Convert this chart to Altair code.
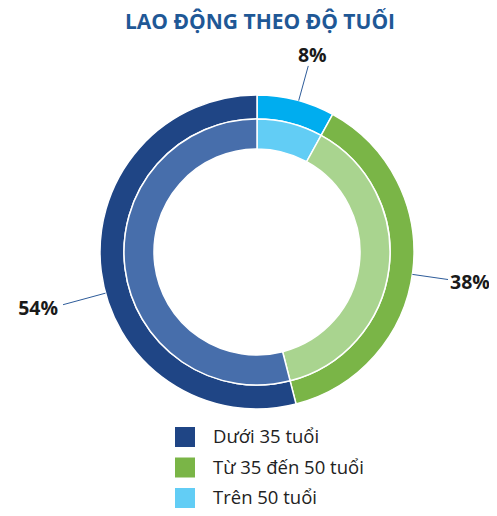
import math
import altair as alt
import pandas as pd

# ---- data ----
title_text = "LAO ĐỘNG THEO ĐỘ TUỔI"
categories = ["Trên 50 tuổi", "Từ 35 đến 50 tuổi", "Dưới 35 tuổi"]
values = [8, 38, 54]
legend_order = ["Dưới 35 tuổi", "Từ 35 đến 50 tuổi", "Trên 50 tuổi"]

# ---- styling ----
outer_colors = ["#00ADEF", "#7AB547", "#1F4585"]
inner_colors = ["#62CDF5", "#A9D48F", "#476EAB"]
legend_colors = ["#1F4585", "#7AB547", "#62CDF5"]
label_nudge_deg = [1, 1, -8]   # label placement tweak (layout only)
leader_extend = [0, 0, 8]      # extra leader length in px (layout only)

W, H = 481, 500
CX, CY = 249, 244  # donut center in view pixels
R_OUT, R_MID, R_IN = 157, 133, 103
R_END = 193

df = pd.DataFrame({"cat": categories, "val": values, "order": [0, 1, 2]})

# leader lines and labels, computed from the values
total = sum(values)
rows_lines, rows_text = [], []
cum = 0
for i, (c, v) in enumerate(zip(categories, values)):
    mid = (cum + v / 2) / total * 360 + label_nudge_deg[i]
    cum += v
    a = math.radians(mid)
    s, co = math.sin(a), math.cos(a)
    r_end = R_END + leader_extend[i]
    rows_lines.append({"cat": c, "x": R_OUT * s, "y": R_OUT * co, "x2": r_end * s, "y2": r_end * co})
    side = "right" if s > 0.5 else ("left" if s < -0.5 else "top")
    rows_text.append({"cat": c, "x": r_end * s, "y": r_end * co, "label": f"{v}%", "side": side})
lines_df = pd.DataFrame(rows_lines)
text_df = pd.DataFrame(rows_text)
title_df = pd.DataFrame({"t": [title_text], "x": [3], "y": [CY - 21]})

xs = alt.Scale(domain=[-CX, W - CX], range=[0, W])
ys = alt.Scale(domain=[-(H - CY), CY], range=[H, 0])

theta = alt.Theta("val:Q", stack=True, scale=alt.Scale(range=[0, 2 * math.pi]))
base = alt.Chart(df).encode(
    theta=theta,
    order=alt.Order("order:Q"),
    x=alt.value(CX),
    y=alt.value(CY),
)

outer = base.mark_arc(outerRadius=R_OUT, innerRadius=R_MID, stroke="white", strokeWidth=1.5).encode(
    fill=alt.Fill("cat:N", scale=alt.Scale(domain=categories, range=outer_colors), legend=None)
)
inner = base.mark_arc(outerRadius=R_MID, innerRadius=R_IN, stroke="white", strokeWidth=1.5).encode(
    fill=alt.Fill("cat:N", scale=alt.Scale(domain=categories, range=inner_colors), legend=None)
)

legend_layer = alt.Chart(df).mark_square(opacity=0, filled=True).encode(
    x=alt.value(CX),
    y=alt.value(CY),
    color=alt.Color(
        "cat:N",
        scale=alt.Scale(domain=legend_order, range=legend_colors),
        legend=alt.Legend(
            title=None,
            orient="none",
            legendX=167,
            legendY=419,
            symbolType="square",
            symbolSize=400,
            symbolOpacity=1,
            symbolStrokeWidth=0,
            labelFont="Open Sans",
            labelFontSize=18.5,
            labelColor="#222222",
            labelOffset=18,
            rowPadding=10.5,
            padding=0,
        ),
    ),
)

leaders = alt.Chart(lines_df).mark_rule(color="#2E5C9A", strokeWidth=1).encode(
    x=alt.X("x:Q", scale=xs, axis=None),
    y=alt.Y("y:Q", scale=ys, axis=None),
    x2="x2:Q",
    y2="y2:Q",
)


def label_layer(side, align, baseline, dx, dy):
    return (
        alt.Chart(text_df)
        .transform_filter(alt.datum.side == side)
        .mark_text(
            font="Open Sans",
            fontSize=19.5,
            fontWeight="bold",
            color="#1A1A1A",
            align=align,
            baseline=baseline,
            dx=dx,
            dy=dy,
        )
        .encode(
            x=alt.X("x:Q", scale=xs, axis=None),
            y=alt.Y("y:Q", scale=ys, axis=None),
            text="label:N",
        )
    )


labels_top = label_layer("top", "center", "bottom", 4, 0)
labels_right = label_layer("right", "left", "middle", 2, 3)
labels_left = label_layer("left", "right", "middle", -5, 4)

title = alt.Chart(title_df).mark_text(
    font="Open Sans",
    fontSize=21,
    fontWeight="bold",
    color="#1F5896",
    align="center",
    baseline="alphabetic",
).encode(
    x=alt.X("x:Q", scale=xs, axis=None),
    y=alt.Y("y:Q", scale=ys, axis=None),
    text="t:N",
)

chart = (
    alt.layer(outer, inner, legend_layer, leaders, labels_top, labels_right, labels_left, title)
    .resolve_scale(color="independent", fill="independent")
    .properties(
        width=W,
        height=H,
        autosize=alt.AutoSizeParams(type="none"),
        padding=0,
    )
    .configure_view(stroke=None)
)

chart.save("out.html", embed_options={"renderer": "svg", "actions": False})
